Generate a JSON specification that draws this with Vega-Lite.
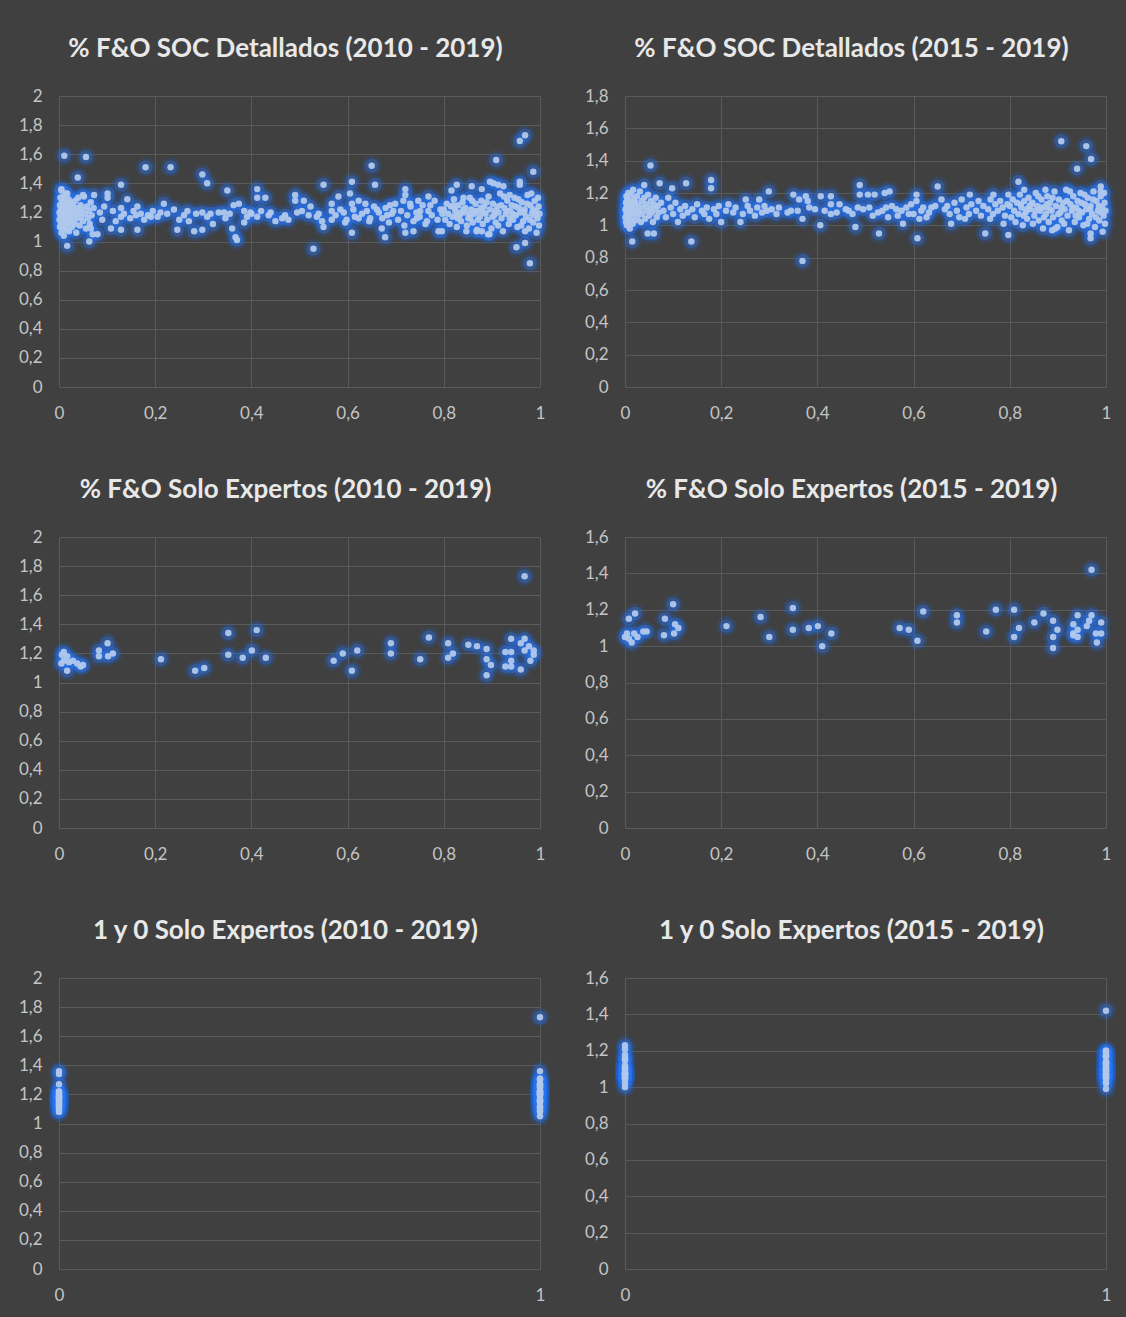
{
"$schema": "https://vega.github.io/schema/vega-lite/v6.json",
"background": "#404040",
"padding": {"left": 18, "top": 36, "right": 14, "bottom": 14},
"bounds": "flush",
"columns": 2,
"spacing": {"row": 150, "column": 85},
"config": {
  "view": {"stroke": null},
  "axis": {"labelFont": "Lato", "labelFontSize": 17, "labelColor": "#c4c4c4", "gridColor": "#5a5a5a", "gridWidth": 1, "domain": false, "ticks": false, "title": null, "labelFlush": false},
  "axisX": {"labelPadding": 18},
  "axisY": {"labelPadding": 17},
  "title": {"font": "Lato", "fontSize": 26, "fontWeight": "bold", "color": "#e8e8e8", "anchor": "middle", "dx": -14, "offset": 25, "baseline": "alphabetic"}
},
"datasets": {
"a": [
{"x":0.001,"y":1.20},{"x":0.001,"y":1.15},{"x":0.002,"y":1.25},{"x":0.002,"y":1.10},{"x":0.003,"y":1.30},{"x":0.003,"y":1.18},{"x":0.004,"y":1.22},{"x":0.004,"y":1.12},{"x":0.005,"y":1.35},{"x":0.005,"y":1.06},{"x":0.006,"y":1.27},{"x":0.006,"y":1.16},{"x":0.007,"y":1.21},{"x":0.007,"y":1.09},{"x":0.008,"y":1.24},{"x":0.008,"y":1.13},{"x":0.009,"y":1.31},{"x":0.009,"y":1.19},{"x":0.010,"y":1.04},{"x":0.010,"y":1.26},{"x":0.011,"y":1.17},{"x":0.011,"y":1.22},{"x":0.012,"y":1.11},{"x":0.012,"y":1.28},{"x":0.013,"y":1.20},{"x":0.014,"y":1.14},{"x":0.014,"y":1.33},{"x":0.015,"y":1.08},{"x":0.016,"y":1.23},{"x":0.016,"y":1.18},{"x":0.017,"y":1.26},{"x":0.018,"y":1.12},{"x":0.019,"y":1.21},{"x":0.020,"y":1.16},{"x":0.020,"y":1.29},{"x":0.021,"y":1.07},{"x":0.022,"y":1.24},{"x":0.023,"y":1.19},{"x":0.024,"y":1.13},{"x":0.025,"y":1.27},{"x":0.026,"y":1.21},{"x":0.027,"y":1.10},{"x":0.028,"y":1.18},{"x":0.029,"y":1.25},{"x":0.030,"y":1.15},{"x":0.031,"y":1.22},{"x":0.033,"y":1.12},{"x":0.034,"y":1.28},{"x":0.035,"y":1.19},{"x":0.036,"y":1.06},{"x":0.038,"y":1.23},{"x":0.039,"y":1.16},{"x":0.040,"y":1.30},{"x":0.042,"y":1.20},{"x":0.043,"y":1.11},{"x":0.045,"y":1.25},{"x":0.046,"y":1.17},{"x":0.048,"y":1.22},{"x":0.050,"y":1.14},{"x":0.052,"y":1.31},{"x":0.054,"y":1.19},{"x":0.056,"y":1.09},{"x":0.058,"y":1.24},{"x":0.060,"y":1.16},{"x":0.062,"y":1.21},{"x":0.064,"y":1.12},{"x":0.066,"y":1.27},{"x":0.068,"y":1.18},{"x":0.070,"y":1.05},{"x":0.072,"y":1.23},
{"x":0.011,"y":1.59},{"x":0.056,"y":1.58},{"x":0.039,"y":1.44},{"x":0.017,"y":0.97},{"x":0.063,"y":1.0},{"x":0.005,"y":1.36},{"x":0.017,"y":1.33},{"x":0.05,"y":1.32},{"x":0.073,"y":1.32},{"x":0.101,"y":1.33},{"x":0.101,"y":1.30},{"x":0.142,"y":1.29},{"x":0.129,"y":1.39},{"x":0.094,"y":1.24},{"x":0.129,"y":1.23},{"x":0.163,"y":1.24},{"x":0.129,"y":1.17},{"x":0.16,"y":1.18},{"x":0.108,"y":1.09},{"x":0.129,"y":1.08},{"x":0.08,"y":1.05},{"x":0.066,"y":1.09},{"x":0.163,"y":1.08},{"x":0.18,"y":1.51},{"x":0.232,"y":1.51},{"x":0.298,"y":1.46},{"x":0.308,"y":1.40},{"x":0.191,"y":1.17},{"x":0.177,"y":1.15},{"x":0.211,"y":1.20},{"x":0.218,"y":1.26},{"x":0.239,"y":1.22},{"x":0.25,"y":1.15},{"x":0.267,"y":1.21},{"x":0.246,"y":1.08},{"x":0.27,"y":1.14},{"x":0.281,"y":1.07},{"x":0.298,"y":1.20},{"x":0.308,"y":1.17},{"x":0.298,"y":1.08},{"x":0.332,"y":1.20},
{"x":0.085,"y":1.20},{"x":0.09,"y":1.15},{"x":0.112,"y":1.21},{"x":0.118,"y":1.14},{"x":0.135,"y":1.19},{"x":0.148,"y":1.16},{"x":0.155,"y":1.21},{"x":0.17,"y":1.19},{"x":0.185,"y":1.18},{"x":0.195,"y":1.21},{"x":0.205,"y":1.17},{"x":0.225,"y":1.19},{"x":0.26,"y":1.18},{"x":0.285,"y":1.19},{"x":0.315,"y":1.19},{"x":0.32,"y":1.12},
{"x":0.35,"y":1.35},{"x":0.343,"y":1.20},{"x":0.346,"y":1.16},{"x":0.363,"y":1.25},{"x":0.374,"y":1.26},{"x":0.36,"y":1.09},{"x":0.367,"y":1.03},{"x":0.37,"y":1.01},{"x":0.385,"y":1.21},{"x":0.391,"y":1.17},{"x":0.385,"y":1.13},{"x":0.398,"y":1.20},{"x":0.412,"y":1.36},{"x":0.412,"y":1.30},{"x":0.429,"y":1.30},{"x":0.412,"y":1.17},{"x":0.436,"y":1.18},{"x":0.45,"y":1.14},{"x":0.464,"y":1.16},{"x":0.477,"y":1.15},{"x":0.491,"y":1.32},{"x":0.491,"y":1.28},{"x":0.495,"y":1.20},{"x":0.509,"y":1.28},{"x":0.523,"y":1.24},{"x":0.519,"y":1.18},{"x":0.536,"y":1.17},{"x":0.547,"y":1.14},{"x":0.55,"y":1.10},{"x":0.529,"y":0.95},{"x":0.55,"y":1.39},{"x":0.567,"y":1.26},{"x":0.567,"y":1.21},{"x":0.567,"y":1.15},{"x":0.581,"y":1.31},{"x":0.592,"y":1.20},{"x":0.598,"y":1.15},{"x":0.605,"y":1.33},{"x":0.609,"y":1.26},{"x":0.609,"y":1.41},{"x":0.612,"y":1.22},{"x":0.609,"y":1.06},{"x":0.623,"y":1.28},{"x":0.623,"y":1.16},{"x":0.637,"y":1.26},{"x":0.64,"y":1.21},{"x":0.657,"y":1.39},{"x":0.65,"y":1.52},{"x":0.647,"y":1.16},{"x":0.661,"y":1.22},
{"x":0.355,"y":1.19},{"x":0.40,"y":1.19},{"x":0.42,"y":1.21},{"x":0.44,"y":1.20},{"x":0.47,"y":1.18},{"x":0.505,"y":1.21},{"x":0.54,"y":1.19},{"x":0.575,"y":1.18},{"x":0.585,"y":1.22},{"x":0.595,"y":1.13},{"x":0.615,"y":1.17},{"x":0.63,"y":1.19},{"x":0.645,"y":1.14},{"x":0.655,"y":1.24},
{"x":0.969,"y":1.73},{"x":0.958,"y":1.69},{"x":0.909,"y":1.56},{"x":0.986,"y":1.48},{"x":0.72,"y":1.36},{"x":0.72,"y":1.32},{"x":0.716,"y":1.28},{"x":0.688,"y":1.25},{"x":0.695,"y":1.21},{"x":0.682,"y":1.18},{"x":0.671,"y":1.09},{"x":0.678,"y":1.03},{"x":0.72,"y":1.06},{"x":0.737,"y":1.07},{"x":0.73,"y":1.26},{"x":0.747,"y":1.28},{"x":0.751,"y":1.21},{"x":0.744,"y":1.16},{"x":0.768,"y":1.31},{"x":0.772,"y":1.25},{"x":0.765,"y":1.14},{"x":0.789,"y":1.07},{"x":0.796,"y":1.07},{"x":0.816,"y":1.35},{"x":0.827,"y":1.39},{"x":0.82,"y":1.25},{"x":0.827,"y":1.18},{"x":0.841,"y":1.30},{"x":0.858,"y":1.38},{"x":0.879,"y":1.36},{"x":0.855,"y":1.16},{"x":0.868,"y":1.07},{"x":0.879,"y":1.07},{"x":0.892,"y":1.05},{"x":0.896,"y":1.41},{"x":0.903,"y":1.40},{"x":0.913,"y":1.39},{"x":0.924,"y":1.38},{"x":0.937,"y":1.32},{"x":0.958,"y":1.41},{"x":0.958,"y":1.39},{"x":0.982,"y":1.33},{"x":0.969,"y":1.07},{"x":0.951,"y":0.96},{"x":0.969,"y":0.99},{"x":0.979,"y":0.85},
{"x":0.665,"y":1.20},{"x":0.672,"y":1.16},{"x":0.679,"y":1.23},{"x":0.686,"y":1.13},{"x":0.692,"y":1.19},{"x":0.699,"y":1.26},{"x":0.705,"y":1.15},{"x":0.711,"y":1.21},{"x":0.718,"y":1.11},{"x":0.724,"y":1.18},{"x":0.731,"y":1.24},{"x":0.737,"y":1.14},{"x":0.743,"y":1.20},{"x":0.750,"y":1.17},{"x":0.756,"y":1.25},{"x":0.762,"y":1.12},{"x":0.768,"y":1.21},{"x":0.775,"y":1.18},{"x":0.781,"y":1.28},{"x":0.787,"y":1.15},{"x":0.793,"y":1.22},{"x":0.797,"y":1.19},
{"x":0.800,"y":1.22},{"x":0.803,"y":1.15},{"x":0.806,"y":1.26},{"x":0.809,"y":1.19},{"x":0.812,"y":1.12},{"x":0.815,"y":1.24},{"x":0.818,"y":1.17},{"x":0.821,"y":1.29},{"x":0.824,"y":1.21},{"x":0.827,"y":1.10},{"x":0.830,"y":1.25},{"x":0.833,"y":1.18},{"x":0.836,"y":1.14},{"x":0.839,"y":1.27},{"x":0.842,"y":1.20},{"x":0.845,"y":1.23},{"x":0.848,"y":1.11},{"x":0.851,"y":1.16},{"x":0.854,"y":1.30},{"x":0.857,"y":1.22},{"x":0.860,"y":1.13},{"x":0.863,"y":1.19},{"x":0.866,"y":1.26},{"x":0.869,"y":1.08},{"x":0.872,"y":1.21},{"x":0.875,"y":1.17},{"x":0.878,"y":1.28},{"x":0.881,"y":1.12},{"x":0.884,"y":1.24},{"x":0.887,"y":1.19},{"x":0.890,"y":1.15},{"x":0.893,"y":1.31},{"x":0.896,"y":1.22},{"x":0.899,"y":1.09},{"x":0.902,"y":1.26},{"x":0.905,"y":1.18},{"x":0.908,"y":1.13},{"x":0.911,"y":1.24},{"x":0.914,"y":1.20},{"x":0.917,"y":1.33},{"x":0.920,"y":1.16},{"x":0.923,"y":1.07},{"x":0.926,"y":1.23},{"x":0.929,"y":1.19},{"x":0.932,"y":1.28},{"x":0.935,"y":1.12},{"x":0.938,"y":1.21},{"x":0.941,"y":1.25},{"x":0.944,"y":1.15},{"x":0.947,"y":1.30},{"x":0.950,"y":1.18},{"x":0.953,"y":1.10},{"x":0.956,"y":1.23},{"x":0.959,"y":1.20},{"x":0.962,"y":1.27},{"x":0.965,"y":1.14},{"x":0.968,"y":1.22},{"x":0.971,"y":1.17},{"x":0.974,"y":1.32},{"x":0.977,"y":1.09},{"x":0.980,"y":1.25},{"x":0.983,"y":1.19},{"x":0.986,"y":1.13},{"x":0.989,"y":1.28},{"x":0.992,"y":1.21},{"x":0.995,"y":1.16},{"x":0.997,"y":1.24},{"x":0.999,"y":1.19},{"x":0.998,"y":1.11},{"x":0.996,"y":1.30},{"x":0.993,"y":1.06},{"x":0.990,"y":1.18},{"x":0.985,"y":1.22},{"x":0.979,"y":1.15},{"x":0.973,"y":1.26},{"x":0.967,"y":1.20},{"x":0.961,"y":1.11},{"x":0.955,"y":1.29},{"x":0.949,"y":1.24},{"x":0.943,"y":1.19},{"x":0.937,"y":1.16},{"x":0.931,"y":1.21},{"x":0.925,"y":1.31},{"x":0.919,"y":1.25},{"x":0.913,"y":1.11},{"x":0.907,"y":1.21},{"x":0.901,"y":1.17},{"x":0.895,"y":1.05},{"x":0.889,"y":1.27},{"x":0.883,"y":1.20},{"x":0.877,"y":1.23},{"x":0.871,"y":1.15},{"x":0.865,"y":1.21},{"x":0.859,"y":1.28},{"x":0.853,"y":1.19},{"x":0.847,"y":1.07},{"x":0.841,"y":1.22},{"x":0.835,"y":1.20},{"x":0.829,"y":1.16},{"x":0.823,"y":1.23}
],
"b": [
{"x":0.001,"y":1.10},{"x":0.001,"y":1.05},{"x":0.002,"y":1.14},{"x":0.002,"y":1.02},{"x":0.003,"y":1.18},{"x":0.003,"y":1.08},{"x":0.004,"y":1.12},{"x":0.004,"y":1.00},{"x":0.005,"y":1.16},{"x":0.005,"y":1.06},{"x":0.006,"y":1.10},{"x":0.007,"y":1.03},{"x":0.007,"y":1.20},{"x":0.008,"y":1.13},{"x":0.009,"y":1.07},{"x":0.010,"y":1.15},{"x":0.010,"y":0.98},{"x":0.011,"y":1.11},{"x":0.012,"y":1.04},{"x":0.013,"y":1.19},{"x":0.014,"y":1.09},{"x":0.015,"y":1.13},{"x":0.016,"y":1.01},{"x":0.017,"y":1.22},{"x":0.018,"y":1.07},{"x":0.019,"y":1.16},{"x":0.020,"y":1.10},{"x":0.021,"y":1.03},{"x":0.022,"y":1.14},{"x":0.024,"y":1.08},{"x":0.025,"y":1.18},{"x":0.026,"y":1.05},{"x":0.028,"y":1.12},{"x":0.030,"y":1.09},{"x":0.031,"y":1.21},{"x":0.033,"y":1.02},{"x":0.035,"y":1.15},{"x":0.036,"y":1.07},{"x":0.038,"y":1.11},{"x":0.040,"y":1.17},{"x":0.042,"y":1.04},{"x":0.044,"y":1.13},{"x":0.046,"y":1.09},{"x":0.048,"y":1.19},{"x":0.050,"y":1.06},{"x":0.052,"y":1.11},{"x":0.054,"y":1.15},{"x":0.056,"y":1.08},{"x":0.058,"y":1.02},{"x":0.060,"y":1.13},{"x":0.062,"y":1.10},{"x":0.064,"y":1.17},{"x":0.066,"y":1.05},{"x":0.068,"y":1.12},{"x":0.070,"y":1.08},
{"x":0.053,"y":1.37},{"x":0.04,"y":1.25},{"x":0.072,"y":1.26},{"x":0.098,"y":1.23},{"x":0.127,"y":1.26},{"x":0.179,"y":1.28},{"x":0.179,"y":1.23},{"x":0.299,"y":1.21},{"x":0.015,"y":0.90},{"x":0.138,"y":0.90},{"x":0.047,"y":0.95},{"x":0.06,"y":0.95},{"x":0.251,"y":1.16},{"x":0.279,"y":1.16},
{"x":0.075,"y":1.14},{"x":0.08,"y":1.09},{"x":0.085,"y":1.05},{"x":0.09,"y":1.17},{"x":0.095,"y":1.11},{"x":0.10,"y":1.07},{"x":0.105,"y":1.14},{"x":0.11,"y":1.02},{"x":0.115,"y":1.10},{"x":0.12,"y":1.06},{"x":0.125,"y":1.12},{"x":0.13,"y":1.08},{"x":0.14,"y":1.10},{"x":0.145,"y":1.05},{"x":0.15,"y":1.13},{"x":0.16,"y":1.09},{"x":0.165,"y":1.07},{"x":0.17,"y":1.11},{"x":0.175,"y":1.04},{"x":0.185,"y":1.10},{"x":0.19,"y":1.07},{"x":0.195,"y":1.12},{"x":0.20,"y":1.02},{"x":0.21,"y":1.09},{"x":0.215,"y":1.13},{"x":0.225,"y":1.08},{"x":0.23,"y":1.11},{"x":0.24,"y":1.02},{"x":0.245,"y":1.07},{"x":0.255,"y":1.12},{"x":0.26,"y":1.09},{"x":0.27,"y":1.06},{"x":0.275,"y":1.11},{"x":0.285,"y":1.08},{"x":0.29,"y":1.12},{"x":0.295,"y":1.09},{"x":0.305,"y":1.10},{"x":0.315,"y":1.07},{"x":0.32,"y":1.11},
{"x":0.369,"y":0.78},{"x":0.35,"y":1.19},{"x":0.362,"y":1.16},{"x":0.376,"y":1.18},{"x":0.38,"y":1.15},{"x":0.345,"y":1.09},{"x":0.338,"y":1.08},{"x":0.359,"y":1.09},{"x":0.369,"y":1.04},{"x":0.383,"y":1.11},{"x":0.407,"y":1.18},{"x":0.406,"y":1.00},{"x":0.428,"y":1.18},{"x":0.428,"y":1.13},{"x":0.428,"y":1.07},{"x":0.446,"y":1.13},{"x":0.459,"y":1.10},{"x":0.473,"y":1.07},{"x":0.484,"y":1.11},{"x":0.479,"y":0.99},{"x":0.488,"y":1.25},{"x":0.488,"y":1.19},{"x":0.505,"y":1.19},{"x":0.519,"y":1.19},{"x":0.508,"y":1.11},{"x":0.526,"y":1.08},{"x":0.528,"y":0.95},{"x":0.54,"y":1.20},{"x":0.55,"y":1.21},{"x":0.543,"y":1.11},{"x":0.547,"y":1.05},{"x":0.564,"y":1.10},{"x":0.567,"y":1.06},{"x":0.578,"y":1.01},{"x":0.585,"y":1.11},{"x":0.60,"y":1.07},{"x":0.606,"y":1.19},{"x":0.606,"y":1.15},{"x":0.608,"y":0.92},{"x":0.616,"y":1.09},{"x":0.627,"y":1.05},{"x":0.637,"y":1.11},{"x":0.65,"y":1.24},{"x":0.658,"y":1.16},{"x":0.665,"y":1.10},
{"x":0.395,"y":1.10},{"x":0.415,"y":1.09},{"x":0.44,"y":1.08},{"x":0.465,"y":1.09},{"x":0.495,"y":1.10},{"x":0.515,"y":1.06},{"x":0.535,"y":1.09},{"x":0.555,"y":1.12},{"x":0.575,"y":1.09},{"x":0.59,"y":1.07},{"x":0.595,"y":1.13},{"x":0.612,"y":1.04},{"x":0.62,"y":1.11},{"x":0.632,"y":1.08},{"x":0.645,"y":1.12},
{"x":0.907,"y":1.52},{"x":0.959,"y":1.49},{"x":0.969,"y":1.41},{"x":0.94,"y":1.35},{"x":0.818,"y":1.27},{"x":0.989,"y":1.24},{"x":0.989,"y":1.21},{"x":0.749,"y":0.95},{"x":0.797,"y":0.94},{"x":0.968,"y":0.95},{"x":0.968,"y":0.92},{"x":0.678,"y":1.01},{"x":0.707,"y":1.04},{"x":0.759,"y":1.04},{"x":0.787,"y":1.01},{"x":0.888,"y":0.97},{"x":0.717,"y":1.19},{"x":0.766,"y":1.19},{"x":0.797,"y":1.19},{"x":0.874,"y":1.22},{"x":0.83,"y":1.22},
{"x":0.67,"y":1.12},{"x":0.675,"y":1.07},{"x":0.685,"y":1.14},{"x":0.69,"y":1.09},{"x":0.695,"y":1.05},{"x":0.70,"y":1.16},{"x":0.71,"y":1.11},{"x":0.715,"y":1.07},{"x":0.72,"y":1.13},{"x":0.73,"y":1.09},{"x":0.735,"y":1.15},{"x":0.74,"y":1.06},{"x":0.745,"y":1.12},{"x":0.755,"y":1.10},{"x":0.76,"y":1.16},{"x":0.765,"y":1.07},{"x":0.77,"y":1.13},{"x":0.775,"y":1.09},{"x":0.78,"y":1.15},{"x":0.785,"y":1.11},{"x":0.79,"y":1.06},{"x":0.795,"y":1.13},
{"x":0.800,"y":1.12},{"x":0.803,"y":1.05},{"x":0.806,"y":1.16},{"x":0.809,"y":1.09},{"x":0.812,"y":1.02},{"x":0.815,"y":1.14},{"x":0.818,"y":1.07},{"x":0.821,"y":1.19},{"x":0.824,"y":1.11},{"x":0.827,"y":1.00},{"x":0.830,"y":1.15},{"x":0.833,"y":1.08},{"x":0.836,"y":1.04},{"x":0.839,"y":1.17},{"x":0.842,"y":1.10},{"x":0.845,"y":1.13},{"x":0.848,"y":1.01},{"x":0.851,"y":1.06},{"x":0.854,"y":1.20},{"x":0.857,"y":1.12},{"x":0.860,"y":1.03},{"x":0.863,"y":1.09},{"x":0.866,"y":1.16},{"x":0.869,"y":0.98},{"x":0.872,"y":1.11},{"x":0.875,"y":1.07},{"x":0.878,"y":1.18},{"x":0.881,"y":1.02},{"x":0.884,"y":1.14},{"x":0.887,"y":1.09},{"x":0.890,"y":1.05},{"x":0.893,"y":1.21},{"x":0.896,"y":1.12},{"x":0.899,"y":0.99},{"x":0.902,"y":1.16},{"x":0.905,"y":1.08},{"x":0.908,"y":1.03},{"x":0.911,"y":1.14},{"x":0.914,"y":1.10},{"x":0.917,"y":1.22},{"x":0.920,"y":1.06},{"x":0.923,"y":0.97},{"x":0.926,"y":1.13},{"x":0.929,"y":1.09},{"x":0.932,"y":1.18},{"x":0.935,"y":1.02},{"x":0.938,"y":1.11},{"x":0.941,"y":1.15},{"x":0.944,"y":1.05},{"x":0.947,"y":1.20},{"x":0.950,"y":1.08},{"x":0.953,"y":1.00},{"x":0.956,"y":1.13},{"x":0.959,"y":1.10},{"x":0.962,"y":1.17},{"x":0.965,"y":1.04},{"x":0.968,"y":1.12},{"x":0.971,"y":1.07},{"x":0.974,"y":1.21},{"x":0.977,"y":0.99},{"x":0.980,"y":1.15},{"x":0.983,"y":1.09},{"x":0.986,"y":1.03},{"x":0.989,"y":1.18},{"x":0.992,"y":1.11},{"x":0.995,"y":1.06},{"x":0.997,"y":1.14},{"x":0.999,"y":1.09},{"x":0.998,"y":1.01},{"x":0.996,"y":1.20},{"x":0.993,"y":0.96},{"x":0.990,"y":1.08},{"x":0.985,"y":1.12},{"x":0.979,"y":1.05},{"x":0.973,"y":1.16},{"x":0.967,"y":1.10},{"x":0.961,"y":1.01},{"x":0.955,"y":1.19},{"x":0.949,"y":1.14},{"x":0.943,"y":1.09},{"x":0.937,"y":1.06},{"x":0.931,"y":1.11},{"x":0.925,"y":1.21},{"x":0.919,"y":1.15},{"x":0.913,"y":1.01},{"x":0.907,"y":1.11},{"x":0.901,"y":1.07},{"x":0.895,"y":0.98},{"x":0.889,"y":1.17},{"x":0.883,"y":1.10},{"x":0.877,"y":1.13},{"x":0.871,"y":1.05},{"x":0.865,"y":1.11},{"x":0.859,"y":1.18},{"x":0.853,"y":1.09},{"x":0.847,"y":1.14},{"x":0.841,"y":1.12},{"x":0.835,"y":1.10},{"x":0.829,"y":1.06},{"x":0.823,"y":1.13}
],
"c": [
{"x":0.968,"y":1.73},{"x":0.352,"y":1.34},{"x":0.411,"y":1.36},{"x":0.352,"y":1.19},{"x":0.382,"y":1.17},{"x":0.401,"y":1.22},{"x":0.43,"y":1.17},{"x":0.212,"y":1.16},{"x":0.283,"y":1.08},{"x":0.302,"y":1.10},{"x":0.101,"y":1.27},{"x":0.083,"y":1.22},{"x":0.083,"y":1.18},{"x":0.102,"y":1.18},{"x":0.112,"y":1.20},{"x":0.006,"y":1.19},{"x":0.01,"y":1.15},{"x":0.017,"y":1.18},{"x":0.021,"y":1.14},{"x":0.017,"y":1.08},{"x":0.029,"y":1.15},{"x":0.038,"y":1.13},{"x":0.05,"y":1.12},{"x":0.005,"y":1.13},{"x":0.01,"y":1.21},{"x":0.045,"y":1.11},{"x":0.571,"y":1.15},{"x":0.59,"y":1.20},{"x":0.609,"y":1.08},{"x":0.62,"y":1.22},{"x":0.69,"y":1.27},{"x":0.69,"y":1.20},{"x":0.751,"y":1.16},{"x":0.769,"y":1.31},{"x":0.809,"y":1.27},{"x":0.809,"y":1.17},{"x":0.819,"y":1.20},{"x":0.851,"y":1.26},{"x":0.869,"y":1.25},{"x":0.889,"y":1.23},{"x":0.889,"y":1.16},{"x":0.898,"y":1.12},{"x":0.889,"y":1.05},{"x":0.928,"y":1.21},{"x":0.94,"y":1.30},{"x":0.94,"y":1.21},{"x":0.94,"y":1.15},{"x":0.928,"y":1.11},{"x":0.94,"y":1.11},{"x":0.96,"y":1.09},{"x":0.96,"y":1.27},{"x":0.968,"y":1.30},{"x":0.968,"y":1.22},{"x":0.977,"y":1.25},{"x":0.987,"y":1.22},{"x":0.987,"y":1.19},{"x":0.98,"y":1.15}
],
"d": [
{"x":0.97,"y":1.42},{"x":0.008,"y":1.15},{"x":0.021,"y":1.18},{"x":0.004,"y":1.07},{"x":0.008,"y":1.04},{"x":0.014,"y":1.02},{"x":0.019,"y":1.07},{"x":0.026,"y":1.05},{"x":0.038,"y":1.08},{"x":0.045,"y":1.08},{"x":0.0,"y":1.05},{"x":0.081,"y":1.06},{"x":0.083,"y":1.15},{"x":0.10,"y":1.23},{"x":0.102,"y":1.07},{"x":0.104,"y":1.12},{"x":0.111,"y":1.10},{"x":0.211,"y":1.11},{"x":0.282,"y":1.16},{"x":0.30,"y":1.05},{"x":0.349,"y":1.21},{"x":0.349,"y":1.09},{"x":0.382,"y":1.10},{"x":0.401,"y":1.11},{"x":0.41,"y":1.00},{"x":0.429,"y":1.07},{"x":0.571,"y":1.10},{"x":0.59,"y":1.09},{"x":0.608,"y":1.03},{"x":0.62,"y":1.19},{"x":0.69,"y":1.17},{"x":0.69,"y":1.13},{"x":0.751,"y":1.08},{"x":0.771,"y":1.20},{"x":0.809,"y":1.20},{"x":0.809,"y":1.05},{"x":0.819,"y":1.10},{"x":0.851,"y":1.13},{"x":0.87,"y":1.18},{"x":0.89,"y":1.14},{"x":0.89,"y":1.05},{"x":0.89,"y":0.99},{"x":0.899,"y":1.09},{"x":0.932,"y":1.12},{"x":0.932,"y":1.07},{"x":0.941,"y":1.17},{"x":0.941,"y":1.09},{"x":0.941,"y":1.05},{"x":0.932,"y":1.06},{"x":0.96,"y":1.11},{"x":0.965,"y":1.14},{"x":0.97,"y":1.17},{"x":0.979,"y":1.07},{"x":0.981,"y":1.02},{"x":0.99,"y":1.13},{"x":0.99,"y":1.07}
],
"e": [
{"x":0,"y":1.34},{"x":0,"y":1.36},{"x":0,"y":1.19},{"x":0,"y":1.17},{"x":0,"y":1.22},{"x":0,"y":1.17},{"x":0,"y":1.16},{"x":0,"y":1.08},{"x":0,"y":1.10},{"x":0,"y":1.27},{"x":0,"y":1.22},{"x":0,"y":1.18},{"x":0,"y":1.18},{"x":0,"y":1.20},{"x":0,"y":1.19},{"x":0,"y":1.15},{"x":0,"y":1.18},{"x":0,"y":1.14},{"x":0,"y":1.08},{"x":0,"y":1.15},{"x":0,"y":1.13},{"x":0,"y":1.12},{"x":0,"y":1.13},{"x":0,"y":1.21},{"x":0,"y":1.11},
{"x":1,"y":1.73},{"x":1,"y":1.36},{"x":1,"y":1.15},{"x":1,"y":1.20},{"x":1,"y":1.08},{"x":1,"y":1.22},{"x":1,"y":1.27},{"x":1,"y":1.20},{"x":1,"y":1.16},{"x":1,"y":1.31},{"x":1,"y":1.27},{"x":1,"y":1.17},{"x":1,"y":1.20},{"x":1,"y":1.26},{"x":1,"y":1.25},{"x":1,"y":1.23},{"x":1,"y":1.16},{"x":1,"y":1.12},{"x":1,"y":1.05},{"x":1,"y":1.21},{"x":1,"y":1.30},{"x":1,"y":1.21},{"x":1,"y":1.15},{"x":1,"y":1.11},{"x":1,"y":1.11},{"x":1,"y":1.09},{"x":1,"y":1.27},{"x":1,"y":1.30},{"x":1,"y":1.22},{"x":1,"y":1.25},{"x":1,"y":1.22},{"x":1,"y":1.19},{"x":1,"y":1.15}
],
"f": [
{"x":0,"y":1.15},{"x":0,"y":1.18},{"x":0,"y":1.07},{"x":0,"y":1.04},{"x":0,"y":1.02},{"x":0,"y":1.07},{"x":0,"y":1.05},{"x":0,"y":1.08},{"x":0,"y":1.08},{"x":0,"y":1.05},{"x":0,"y":1.06},{"x":0,"y":1.15},{"x":0,"y":1.23},{"x":0,"y":1.07},{"x":0,"y":1.12},{"x":0,"y":1.10},{"x":0,"y":1.11},{"x":0,"y":1.16},{"x":0,"y":1.05},{"x":0,"y":1.21},{"x":0,"y":1.09},{"x":0,"y":1.10},{"x":0,"y":1.11},{"x":0,"y":1.00},{"x":0,"y":1.07},
{"x":1,"y":1.42},{"x":1,"y":1.10},{"x":1,"y":1.09},{"x":1,"y":1.03},{"x":1,"y":1.19},{"x":1,"y":1.17},{"x":1,"y":1.13},{"x":1,"y":1.08},{"x":1,"y":1.20},{"x":1,"y":1.20},{"x":1,"y":1.05},{"x":1,"y":1.10},{"x":1,"y":1.13},{"x":1,"y":1.18},{"x":1,"y":1.14},{"x":1,"y":1.05},{"x":1,"y":0.99},{"x":1,"y":1.09},{"x":1,"y":1.12},{"x":1,"y":1.07},{"x":1,"y":1.17},{"x":1,"y":1.09},{"x":1,"y":1.05},{"x":1,"y":1.06},{"x":1,"y":1.11},{"x":1,"y":1.14},{"x":1,"y":1.17},{"x":1,"y":1.07},{"x":1,"y":1.02},{"x":1,"y":1.13},{"x":1,"y":1.07}
]
},
"concat": [
{
  "title": "% F&O SOC Detallados (2010 - 2019)",
  "width": 481, "height": 291,
  "data": {"name": "a"},
  "encoding": {
    "x": {"field": "x", "type": "quantitative", "scale": {"domain": [0, 1], "nice": false}, "axis": {"values": [0, 0.2, 0.4, 0.6, 0.8, 1], "labelExpr": "replace(format(datum.value, '.1~f'), '.', ',')"}},
    "y": {"field": "y", "type": "quantitative", "scale": {"domain": [0, 2], "nice": false}, "axis": {"values": [0, 0.2, 0.4, 0.6, 0.8, 1, 1.2, 1.4, 1.6, 1.8, 2], "labelExpr": "replace(format(datum.value, '.1~f'), '.', ',')"}}
  },
  "layer": [
    {"mark": {"type": "circle", "size": 400, "color": "#1e64d8", "opacity": 0.17}},
    {"mark": {"type": "circle", "size": 190, "color": "#2a74ee", "opacity": 0.38}},
    {"mark": {"type": "circle", "size": 42, "color": "#b0c8ec", "opacity": 0.95}}
  ]
},
{
  "title": "% F&O SOC Detallados (2015 - 2019)",
  "width": 481, "height": 291,
  "data": {"name": "b"},
  "encoding": {
    "x": {"field": "x", "type": "quantitative", "scale": {"domain": [0, 1], "nice": false}, "axis": {"values": [0, 0.2, 0.4, 0.6, 0.8, 1], "labelExpr": "replace(format(datum.value, '.1~f'), '.', ',')"}},
    "y": {"field": "y", "type": "quantitative", "scale": {"domain": [0, 1.8], "nice": false}, "axis": {"values": [0, 0.2, 0.4, 0.6, 0.8, 1, 1.2, 1.4, 1.6, 1.8], "labelExpr": "replace(format(datum.value, '.1~f'), '.', ',')"}}
  },
  "layer": [
    {"mark": {"type": "circle", "size": 400, "color": "#1e64d8", "opacity": 0.17}},
    {"mark": {"type": "circle", "size": 190, "color": "#2a74ee", "opacity": 0.38}},
    {"mark": {"type": "circle", "size": 42, "color": "#b0c8ec", "opacity": 0.95}}
  ]
},
{
  "title": "% F&O Solo Expertos (2010 - 2019)",
  "width": 481, "height": 291,
  "data": {"name": "c"},
  "encoding": {
    "x": {"field": "x", "type": "quantitative", "scale": {"domain": [0, 1], "nice": false}, "axis": {"values": [0, 0.2, 0.4, 0.6, 0.8, 1], "labelExpr": "replace(format(datum.value, '.1~f'), '.', ',')"}},
    "y": {"field": "y", "type": "quantitative", "scale": {"domain": [0, 2], "nice": false}, "axis": {"values": [0, 0.2, 0.4, 0.6, 0.8, 1, 1.2, 1.4, 1.6, 1.8, 2], "labelExpr": "replace(format(datum.value, '.1~f'), '.', ',')"}}
  },
  "layer": [
    {"mark": {"type": "circle", "size": 400, "color": "#1e64d8", "opacity": 0.17}},
    {"mark": {"type": "circle", "size": 190, "color": "#2a74ee", "opacity": 0.38}},
    {"mark": {"type": "circle", "size": 42, "color": "#b0c8ec", "opacity": 0.95}}
  ]
},
{
  "title": "% F&O Solo Expertos (2015 - 2019)",
  "width": 481, "height": 291,
  "data": {"name": "d"},
  "encoding": {
    "x": {"field": "x", "type": "quantitative", "scale": {"domain": [0, 1], "nice": false}, "axis": {"values": [0, 0.2, 0.4, 0.6, 0.8, 1], "labelExpr": "replace(format(datum.value, '.1~f'), '.', ',')"}},
    "y": {"field": "y", "type": "quantitative", "scale": {"domain": [0, 1.6], "nice": false}, "axis": {"values": [0, 0.2, 0.4, 0.6, 0.8, 1, 1.2, 1.4, 1.6], "labelExpr": "replace(format(datum.value, '.1~f'), '.', ',')"}}
  },
  "layer": [
    {"mark": {"type": "circle", "size": 400, "color": "#1e64d8", "opacity": 0.17}},
    {"mark": {"type": "circle", "size": 190, "color": "#2a74ee", "opacity": 0.38}},
    {"mark": {"type": "circle", "size": 42, "color": "#b0c8ec", "opacity": 0.95}}
  ]
},
{
  "title": "1 y 0 Solo Expertos (2010 - 2019)",
  "width": 481, "height": 291,
  "data": {"name": "e"},
  "encoding": {
    "x": {"field": "x", "type": "quantitative", "scale": {"domain": [0, 1], "nice": false}, "axis": {"values": [0, 1], "labelExpr": "replace(format(datum.value, '.1~f'), '.', ',')"}},
    "y": {"field": "y", "type": "quantitative", "scale": {"domain": [0, 2], "nice": false}, "axis": {"values": [0, 0.2, 0.4, 0.6, 0.8, 1, 1.2, 1.4, 1.6, 1.8, 2], "labelExpr": "replace(format(datum.value, '.1~f'), '.', ',')"}}
  },
  "layer": [
    {"mark": {"type": "circle", "size": 400, "color": "#1e64d8", "opacity": 0.17}},
    {"mark": {"type": "circle", "size": 190, "color": "#2a74ee", "opacity": 0.38}},
    {"mark": {"type": "circle", "size": 42, "color": "#b0c8ec", "opacity": 0.95}}
  ]
},
{
  "title": "1 y 0 Solo Expertos (2015 - 2019)",
  "width": 481, "height": 291,
  "data": {"name": "f"},
  "encoding": {
    "x": {"field": "x", "type": "quantitative", "scale": {"domain": [0, 1], "nice": false}, "axis": {"values": [0, 1], "labelExpr": "replace(format(datum.value, '.1~f'), '.', ',')"}},
    "y": {"field": "y", "type": "quantitative", "scale": {"domain": [0, 1.6], "nice": false}, "axis": {"values": [0, 0.2, 0.4, 0.6, 0.8, 1, 1.2, 1.4, 1.6], "labelExpr": "replace(format(datum.value, '.1~f'), '.', ',')"}}
  },
  "layer": [
    {"mark": {"type": "circle", "size": 400, "color": "#1e64d8", "opacity": 0.17}},
    {"mark": {"type": "circle", "size": 190, "color": "#2a74ee", "opacity": 0.38}},
    {"mark": {"type": "circle", "size": 42, "color": "#b0c8ec", "opacity": 0.95}}
  ]
}
]
}
